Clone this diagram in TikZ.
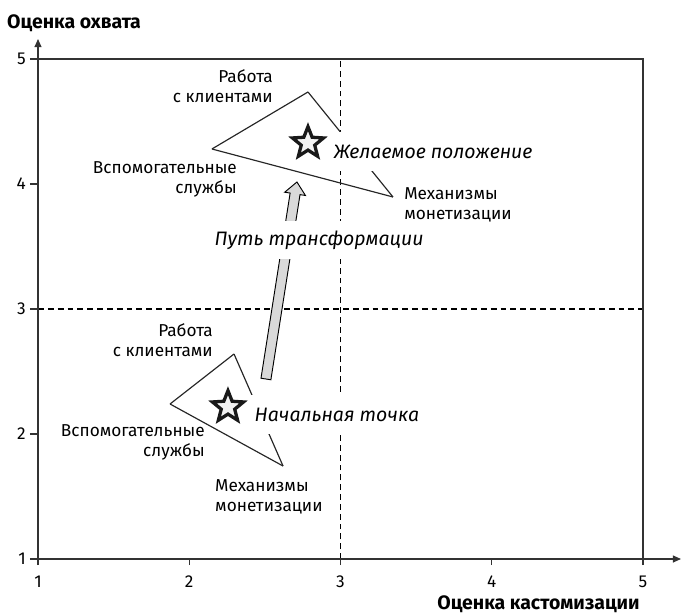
\documentclass[tikz,border=0pt]{standalone}
\usepackage{fontspec}
\setmainfont{Fira Sans}
\usetikzlibrary{shapes.geometric,calc,arrows.meta}

\begin{document}
\begin{tikzpicture}[x=4.5375cm, y=3.75cm,
  font=\fontsize{14.7}{17}\selectfont,
  axis/.style={line width=1.1pt, draw=black!80},
  grid/.style={line width=1.1pt, dash pattern=on 5pt off 3.4pt},
  side/.style={line width=1pt, draw=black!85},
  corner/.style={inner sep=0pt, align=right, anchor=east},
  cornerr/.style={inner sep=0pt, align=left, anchor=west},
  tag/.style={font=\fontsize{16.6}{19}\selectfont\itshape, fill=white, inner xsep=3pt, minimum height=1.17cm},
  title/.style={inner sep=0pt, font=\fontsize{16.6}{19}\selectfont\bfseries},
  goal/.style={star, star points=5, star point ratio=2.3, draw=black!90, fill=black!5, line width=2.8pt, minimum size=0.98cm, inner sep=0pt}
]
\useasboundingbox (0.7488,0.568) rectangle (5.2512,5.472);
% grid
\coordinate (O) at (1,1);
\coordinate (gx0) at (1,3); \coordinate (gx1) at (5,3);
\coordinate (gy0) at (3,1); \coordinate (gy1) at (3,5);
\path [grid, draw=black] (gx0) edge (gx1);
\path [grid, draw=black] (gy0) edge (gy1);
% frame and axes
\coordinate (TL) at (1,5); \coordinate (TR) at (5,5); \coordinate (BR) at (5,0.952);
\coordinate (Xend) at (5.2512,1); \coordinate (Yend) at (1,5.16);
\coordinate (Xbeg) at (0.947,1); \coordinate (Ybeg) at (1,0.952);
\draw [axis] (TL) -- (TR) -- (BR);
\draw [axis, -{Triangle[length=7pt, width=6pt]}] (Xbeg) -- (Xend);
\draw [axis, -{Triangle[length=7pt, width=6pt]}] (Ybeg) -- (Yend);
\foreach \i in {2,3,4,5} {
  \draw [axis] (0.947,\i) -- (1,\i);
  \draw [axis] (\i,0.952) -- (\i,1);
}
\foreach \i in {1,...,5} {
  \node [anchor=east, inner sep=0pt] (ly\i) at (0.9207,\i) {\i};
  \node [inner sep=0pt] (lx\i) at (\i,0.816) {\i};
}
\node [title, anchor=west] (ytitle) at (0.795,5.288) {Оценка охвата};
\node [title] (xtitle) at (4.309,0.64) {Оценка кастомизации};
% desired triangle
\coordinate (d1) at (2.785,4.736);
\coordinate (d2) at (2.150,4.28);
\coordinate (d3) at (3.347,3.896);
\path [side] (d1) edge (d2);
\path [side] (d2) edge (d3);
\path [side] (d3) edge (d1);
% start triangle
\coordinate (s1) at (2.296,2.64);
\coordinate (s2) at (1.873,2.24);
\coordinate (s3) at (2.62,1.744);
\path [side] (s1) edge (s2);
\path [side] (s2) edge (s3);
\path [side] (s3) edge (s1);
% transformation arrow
\coordinate (p0) at (2.507,2.44);
\coordinate (p1) at (2.712,4.016);
\coordinate (p2) at ($(p1)!0.36cm!(p0)$);
\draw [line width=0.8pt, fill=black!15]
  ($(p0)!0.15cm!90:(p1)$) -- ($(p2)!0.15cm!-90:(p0)$) -- ($(p2)!0.315cm!-90:(p0)$) -- (p1)
  -- ($(p2)!0.315cm!90:(p0)$) -- ($(p2)!0.15cm!90:(p0)$) -- ($(p0)!0.15cm!-90:(p1)$) -- cycle;
% vertex labels
\node [corner] (dA) at (2.554,4.784) {Работа\\с клиентами};
\node [corner] (dB) at (2.316,4.04) {Вспомогательные\\службы};
\node [cornerr] (dC) at (3.42,3.832) {Механизмы\\монетизации};
\node [corner] (sA) at (2.157,2.752) {Работа\\с клиентами};
\node [corner] (sB) at (2.104,1.936) {Вспомогательные\\службы};
\node [cornerr] (sC) at (2.170,1.496) {Механизмы\\монетизации};
% position labels
\node [tag, anchor=west] (goalT) at (2.9306,4.256) {Желаемое положение};
\node [tag, anchor=west] (startT) at (2.408,2.156) {Начальная точка};
\node [tag, minimum height=1.14cm] (pathT) at (2.858,3.552) {Путь трансформации};
\node [goal] (goalS) at (2.785,4.328) {};
\node [goal] (startS) at (2.256,2.216) {};
\end{tikzpicture}
\end{document}
